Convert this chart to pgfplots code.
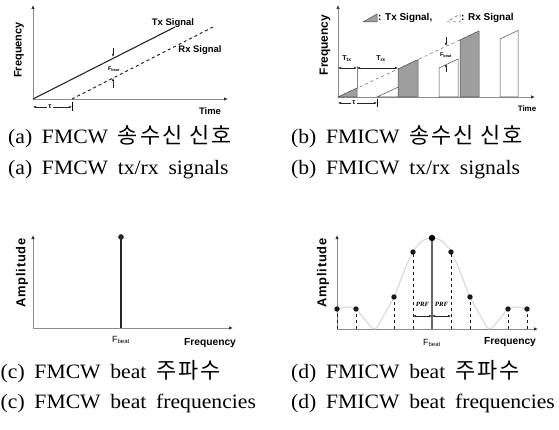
\documentclass[border=0pt]{standalone}
\usepackage{pgfplots}
\pgfplotsset{compat=1.18}
\usepackage{fontspec}
\setmainfont[WordSpace=1.8,FakeStretch=1.06]{Liberation Serif}
\newfontfamily\kr[LetterSpace=9]{Noto Sans CJK KR}
\newfontfamily\lab{Liberation Sans}
\newfontfamily\labsp[LetterSpace=6]{Liberation Sans}
\usetikzlibrary{arrows.meta}
\definecolor{axisgray}{gray}{0.55}
\definecolor{txfill}{gray}{0.62}
\definecolor{envgray}{gray}{0.84}
\pgfplotsset{
  diag/.style={x=1bp,y=1bp, axis lines=left, ticks=none, clip=false,
    axis line style={draw=axisgray, line width=0.8bp, -{Latex[length=4bp,width=3.5bp,fill=black!80,color=black!80]}},
    enlargelimits=false, anchor=south west, xmin=0, ymin=0},
}
\tikzset{
  lbl/.style={font=\lab\bfseries\fontsize{9.5}{10}\selectfont, inner sep=0pt},
  flbl/.style={font=\lab\bfseries\fontsize{11}{12}\selectfont, inner sep=0pt},
  albl/.style={font=\labsp\bfseries\fontsize{13}{14}\selectfont, inner sep=0pt, rotate=90},
  sm/.style={font=\lab\bfseries\fontsize{5.5}{6}\selectfont, inner sep=0pt},
  ar/.style={-{Latex[length=3bp,width=2.5bp]}, line width=0.5bp, black!85},
  dar/.style={{Latex[length=3bp,width=2.5bp]}-{Latex[length=3bp,width=2.5bp]}, line width=0.5bp, black!85},
  capt/.style={anchor=base west, inner sep=0pt, font=\fontsize{20.5}{22}\selectfont},
}
\begin{document}
\begin{tikzpicture}
\path[use as bounding box] (0,0) rectangle (559bp,430bp);
% ---------------- (a)
\begin{axis}[diag, at={(33bp,331bp)}, xmax=195, ymax=94]
\addplot[black!85, line width=1.1bp] coordinates {(0,0) (142,72)};
\addplot[black!85, line width=1bp, dashed] coordinates {(39,0) (182,73)};
\node[lbl] at (axis cs:140,76) {Tx Signal};
\node[lbl] at (axis cs:167,49) {Rx Signal};
\draw[ar] (axis cs:80,51) -- (axis cs:80,42);
\draw[ar] (axis cs:80,11) -- (axis cs:80,21);
\node[sm] at (axis cs:81,30) {F\textsubscript{beat}};
\draw[dar] (axis cs:0,-8) -- (axis cs:39,-8);
\node[sm, fill=white, inner sep=1pt, font=\lab\bfseries\fontsize{7}{8}\selectfont] at (axis cs:17,-8) {τ};
\draw[line width=0.5bp] (axis cs:39,-3) -- (axis cs:39,-12);
\node[lbl] at (axis cs:177,-12) {Time};
\node[flbl, rotate=90] at (axis cs:-14,49) {Frequency};
\end{axis}
% ---------------- (b)
\begin{axis}[diag, at={(338bp,333bp)}, xmax=197, ymax=92]
\addplot[black!60, dashed, line width=0.5bp] coordinates {(0,0) (141,66)};
\addplot[fill=txfill, draw=black!70, line width=0.5bp] coordinates {(0,0) (19,8.9) (19,0)} -- cycle;
\addplot[fill=txfill, draw=black!70, line width=0.5bp] coordinates {(60,0) (60,28) (80,37.4) (80,0)} -- cycle;
\addplot[fill=txfill, draw=black!70, line width=0.5bp] coordinates {(122,0) (122,57) (141,66) (141,0)} -- cycle;
\addplot[fill=white, draw=black!70, line width=0.5bp] coordinates {(39,0) (60,9.8) (60,0)} -- cycle;
\addplot[fill=white, draw=black!70, line width=0.5bp] coordinates {(101,0) (101,29) (120,38) (120,0)} -- cycle;
\addplot[fill=white, draw=black!70, line width=0.5bp] coordinates {(162,0) (162,58) (180,66.5) (180,0)} -- cycle;
\draw[black!50, line width=0.4bp] (axis cs:19,8.9) -- (axis cs:19,31);
\draw[dar] (axis cs:0,29) -- (axis cs:19,29);
\draw[dar] (axis cs:19,29) -- (axis cs:60,29);
\node[sm, font=\lab\bfseries\fontsize{7}{8}\selectfont] at (axis cs:9,38) {T\textsubscript{tx}};
\node[sm, font=\lab\bfseries\fontsize{7}{8}\selectfont] at (axis cs:43,38) {T\textsubscript{rx}};
\draw[ar] (axis cs:108,60) -- (axis cs:108,51);
\draw[ar] (axis cs:108,25) -- (axis cs:108,33);
\node[sm] at (axis cs:108,42) {F\textsubscript{beat}};
\draw[dar] (axis cs:0,-6) -- (axis cs:39,-6);
\node[sm, fill=white, inner sep=1pt, font=\lab\bfseries\fontsize{7}{8}\selectfont] at (axis cs:16,-6) {τ};
\draw[line width=0.5bp] (axis cs:39,-2) -- (axis cs:39,-10);
% legend
\addplot[fill=txfill, draw=black!70, line width=0.5bp] coordinates {(25,75) (39,75) (39,83)} -- cycle;
\node[lbl, anchor=west, font=\lab\bfseries\fontsize{10}{11}\selectfont] at (axis cs:40,79) {: Tx Signal,};
\addplot[fill=white, draw=black!70, dashed, line width=0.5bp] coordinates {(109,75) (122,75) (122,83)} -- cycle;
\node[lbl, anchor=west, font=\lab\bfseries\fontsize{10}{11}\selectfont] at (axis cs:123,79) {: Rx Signal};
\node[lbl, font=\lab\bfseries\fontsize{8}{9}\selectfont] at (axis cs:189,-12) {Time};
\node[flbl, rotate=90, font=\lab\bfseries\fontsize{12}{13}\selectfont] at (axis cs:-13,52) {Frequency};
\end{axis}
% ---------------- (c)
\begin{axis}[diag, at={(33bp,102bp)}, xmax=200, ymax=93]
\addplot[ycomb, black!85, line width=1.2bp, mark=*, mark size=2.2bp] coordinates {(88,91)};
\node[lbl, font=\lab\fontsize{9}{10}\selectfont] at (axis cs:88,-12) {F\textsubscript{beat}};
\node[flbl, font=\lab\bfseries\fontsize{10.3}{11}\selectfont] at (axis cs:177,-15) {Frequency};
\node[albl] at (axis cs:-11,55) {Amplitude};
\end{axis}
% ---------------- (d)
\begin{axis}[diag, at={(337bp,101bp)}, xmax=201, ymax=94]
\addplot[envgray, line width=1bp, smooth, tension=0.5] coordinates {
 (0,20) (9.5,22) (19,20) (29,8) (38,0) (47,14) (57,32) (66,55) (76,77) (85,88) (95,91)
 (105,88) (114,77) (124,55) (133,32) (143,14) (152,0) (161,8) (171,20) (180.5,22) (190,20)};
\addplot[ycomb, dashed, black!90, line width=0.9bp, mark=*, mark size=2.2bp, mark options={solid}] coordinates {
 (0,20) (19,20) (57,32) (76,77) (114,77) (133,32) (171,20) (190,20)};
\addplot[ycomb, gray!80!black, line width=1.8bp, mark=*, mark size=2.2bp, mark options={black, fill=black}] coordinates {(95,91)};
\draw[dar] (axis cs:76,13) -- (axis cs:95,13);
\draw[dar] (axis cs:95,13) -- (axis cs:114,13);
\node[inner sep=0pt, font=\itshape\bfseries\fontsize{6.5}{7}\selectfont] at (axis cs:85.5,25) {PRF};
\node[inner sep=0pt, font=\itshape\bfseries\fontsize{6.5}{7}\selectfont] at (axis cs:104.5,25) {PRF};
\node[lbl, font=\lab\fontsize{9}{10}\selectfont] at (axis cs:95,-14) {F\textsubscript{beat}};
\node[flbl, font=\lab\bfseries\fontsize{10.3}{11}\selectfont] at (axis cs:173,-13) {Frequency};
\node[albl] at (axis cs:-14,56) {Amplitude};
\end{axis}
% ---------------- captions
\node[capt] at (8bp,286bp) {(a) FMCW {\kr\fontsize{22}{23}\selectfont 송수신 신호}};
\node[capt] at (8bp,255bp) {(a) FMCW tx/rx signals};
\node[capt] at (291bp,286bp) {(b) FMICW {\kr\fontsize{22}{23}\selectfont 송수신 신호}};
\node[capt] at (291bp,255bp) {(b) FMICW tx/rx signals};
\node[capt] at (0.5bp,51.5bp) {(c) FMCW beat {\kr\fontsize{22}{23}\selectfont 주파수}};
\node[capt] at (0.5bp,22bp) {(c) FMCW beat frequencies};
\node[capt] at (291bp,51.5bp) {(d) FMICW beat {\kr\fontsize{22}{23}\selectfont 주파수}};
\node[capt] at (291bp,22bp) {(d) FMICW beat frequencies};
\end{tikzpicture}
\end{document}
